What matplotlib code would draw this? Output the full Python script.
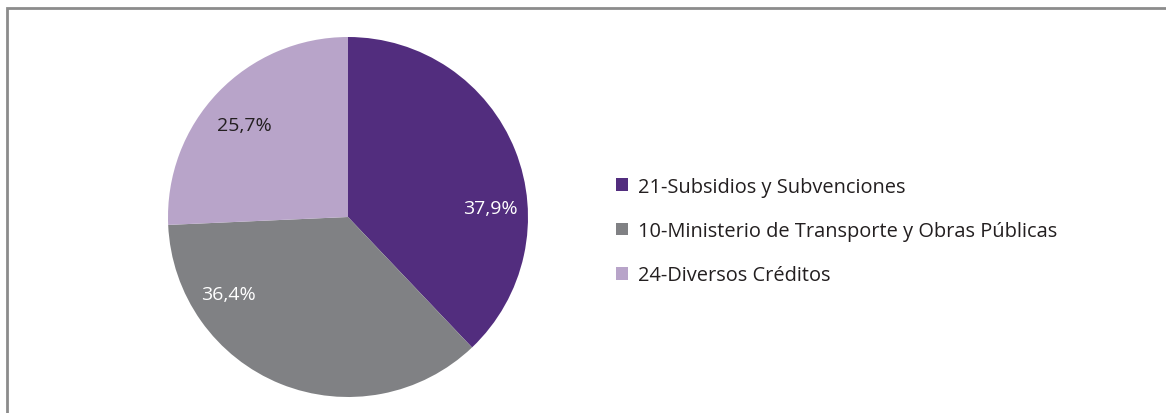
import matplotlib.pyplot as plt
import matplotlib.patches as mpatches
import numpy as np

# datos
categorias = ['21-Subsidios y Subvenciones',
              '10-Ministerio de Transporte y Obras Públicas',
              '24-Diversos Créditos']
valores = [37.9, 36.4, 25.7]
colores = ['#522d7e', '#808184', '#b8a4c9']
color_texto = ['white', 'white', '#231f20']

# ángulo (grados) y distancia de cada etiqueta, ajustados a mano
ang_etiquetas = [3.6, 212.7, 138.2]
dist_etiquetas = [0.79, 0.79, 0.77]

plt.rcParams['font.family'] = ['Open Sans', 'DejaVu Sans']

W, H = 1166, 414
fig = plt.figure(figsize=(W / 100, H / 100), dpi=100)

# marco gris (solo se ven lados superior e izquierdo)
marco = mpatches.Rectangle((7 / W, -0.1), 1.1, 1 - 9 / H + 0.1, transform=fig.transFigure,
                           fill=False, edgecolor='#8c8c8c', linewidth=2)
fig.patches.append(marco)

cx, cy, r = 348, 218, 180
ax = fig.add_axes([(cx - r) / W, (H - cy - r) / H, 2 * r / W, 2 * r / H])

wedges, textos, autotextos = ax.pie(valores, colors=colores, startangle=90, counterclock=False,
                                    autopct=lambda p: f'{p:.1f}%'.replace('.', ','),
                                    pctdistance=0.78, radius=1,
                                    wedgeprops=dict(linewidth=0))
for t, a, d, c in zip(autotextos, ang_etiquetas, dist_etiquetas, color_texto):
    t.set_position((d * np.cos(np.radians(a)), d * np.sin(np.radians(a))))
    t.set_color(c)
    t.set_fontsize(14)
ax.set_xlim(-1, 1)
ax.set_ylim(-1, 1)
ax.set_aspect('equal')

leg = fig.legend(wedges, categorias, loc='center left',
                 bbox_to_anchor=(598 / W, (H - 232) / H), frameon=False,
                 fontsize=14.4, handlelength=0.6, handleheight=0.6, handletextpad=0.5,
                 labelspacing=1.22, labelcolor='#231f20')

fig.savefig('out.png', dpi=100)
